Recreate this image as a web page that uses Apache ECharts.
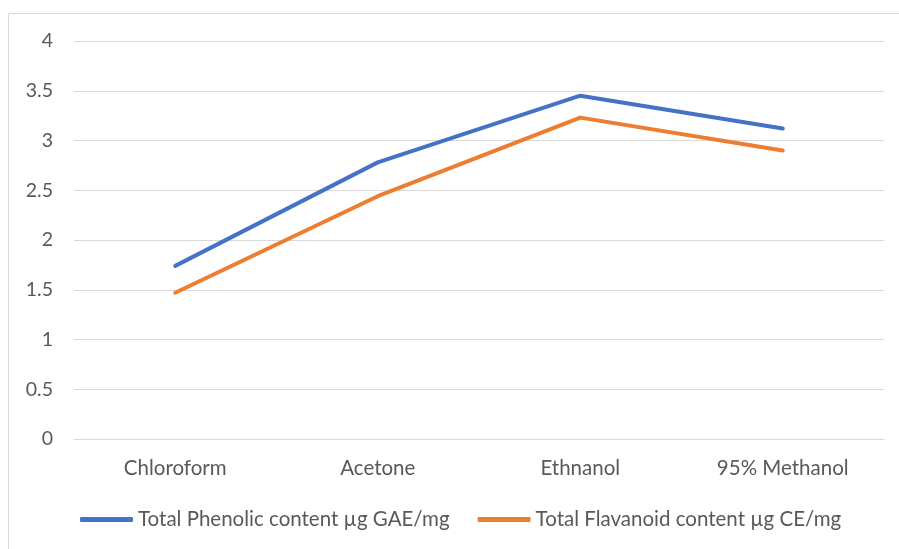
<!DOCTYPE html>
<html>
<head>
<meta charset="utf-8">
<script src="https://cdn.jsdelivr.net/npm/echarts@6/dist/echarts.min.js"></script>
<style>
  html, body { margin: 0; padding: 0; background: #fff; }
  #chart { width: 899px; height: 549px; }
</style>
</head>
<body>
<div id="chart"></div>
<script>
// Solvent extracts on the category axis
const solvents = ['Chloroform', 'Acetone', 'Ethnanol', '95% Methanol'];

// Measured contents per extract
const phenolicGAE = [1.74, 2.78, 3.45, 3.12];
const flavanoidCE = [1.47, 2.44, 3.23, 2.90];

const seriesNames = ['Total Phenolic content µg GAE/mg', 'Total Flavanoid content µg CE/mg'];

const FONT = 'Lato, "Open Sans", sans-serif';
const TEXT = '#595959';

const chart = echarts.init(document.getElementById('chart'));
chart.setOption({
  animation: false,
  backgroundColor: '#fff',
  color: ['#4472C4', '#ED7D31'],
  graphic: [{
    type: 'rect',
    shape: { x: 8.5, y: 13.5, width: 1000, height: 700 },
    style: { fill: 'none', stroke: '#d9d9d9', lineWidth: 1 },
    silent: true
  }],
  grid: { left: 74, right: 15, top: 41, bottom: 110, containLabel: false },
  xAxis: {
    type: 'category',
    data: solvents,
    boundaryGap: true,
    axisLine: { show: true, lineStyle: { color: '#d9d9d9', width: 1 } },
    axisTick: { show: false },
    axisLabel: { color: TEXT, fontFamily: FONT, fontSize: 20.5, margin: 19 }
  },
  yAxis: {
    type: 'value',
    min: 0, max: 4, interval: 0.5,
    axisLine: { show: false },
    axisTick: { show: false },
    splitLine: { lineStyle: { color: '#d9d9d9', width: 1 } },
    axisLabel: { color: TEXT, fontFamily: FONT, fontSize: 19.5, margin: 21 }
  },
  legend: {
    bottom: 19,
    left: 80,
    padding: 0,
    itemWidth: 53,
    itemHeight: 5,
    itemGap: 28,
    icon: 'roundRect',
    textStyle: { color: TEXT, fontFamily: FONT, fontSize: 20.5 },
    data: seriesNames
  },
  series: [
    {
      name: seriesNames[0], type: 'line', data: phenolicGAE,
      symbol: 'none', lineStyle: { width: 4, cap: 'round', join: 'round' }
    },
    {
      name: seriesNames[1], type: 'line', data: flavanoidCE,
      symbol: 'none', lineStyle: { width: 4, cap: 'round', join: 'round' }
    }
  ]
});
</script>
</body>
</html>
